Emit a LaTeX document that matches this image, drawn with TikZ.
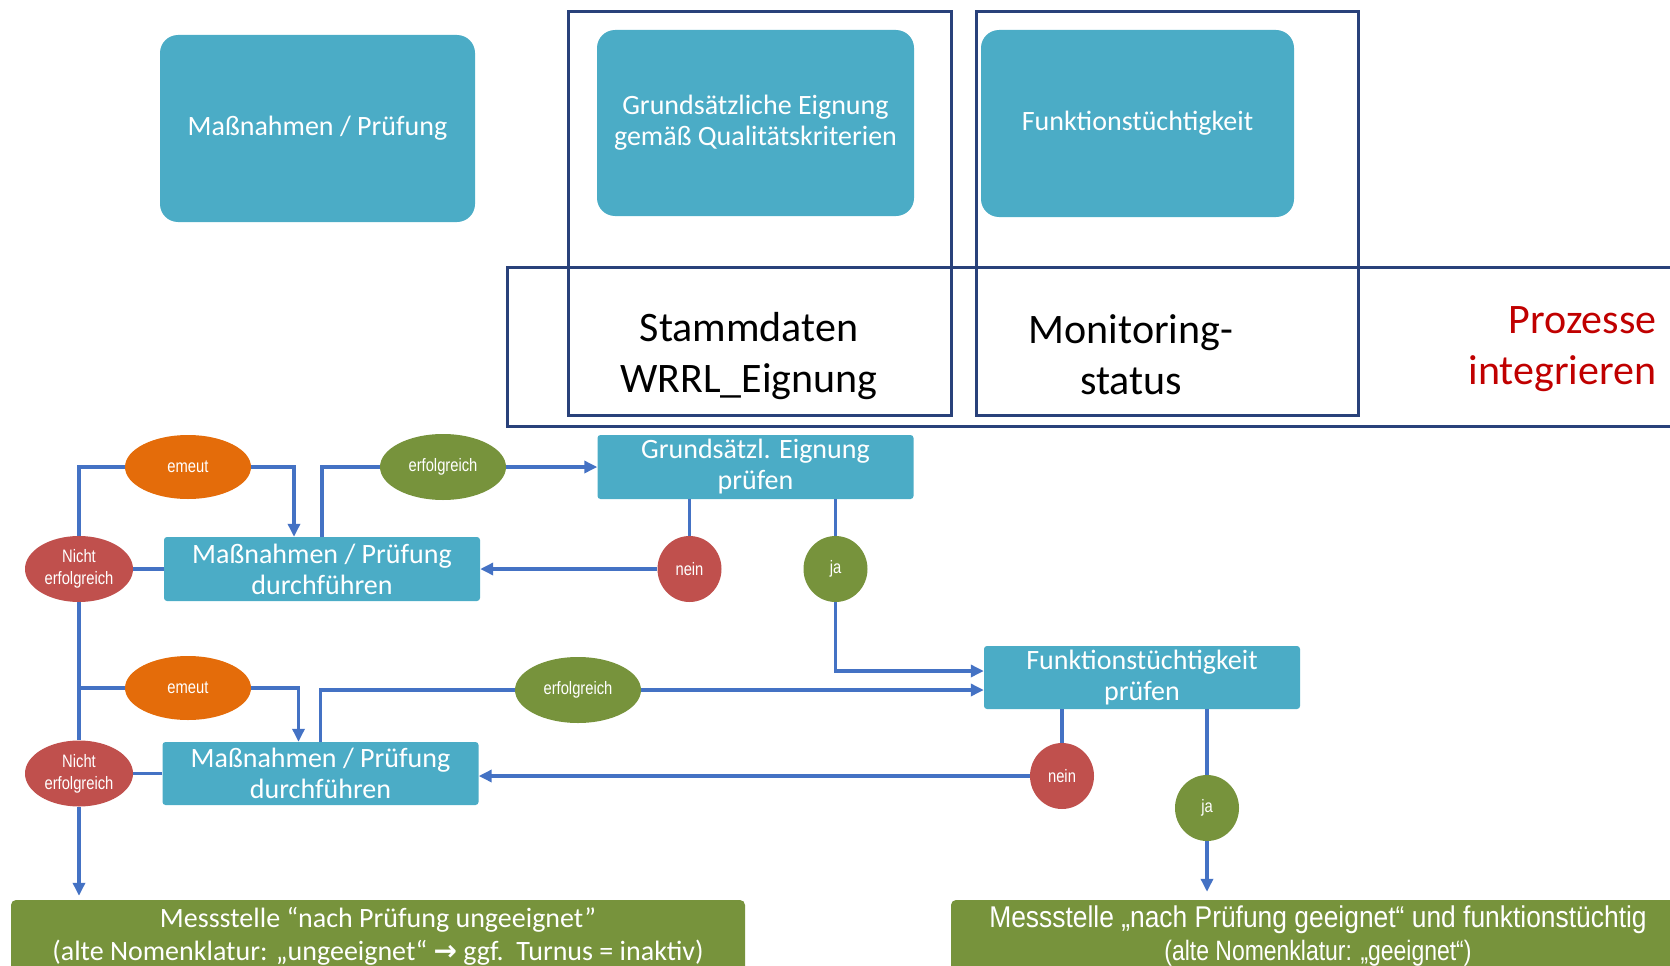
\documentclass[tikz,border=0pt]{standalone}
\usepackage{fontspec}
\setmainfont{Carlito}
\newfontfamily\narrowfont[FakeStretch=0.82]{Liberation Sans}
\newfontfamily\resultfont[FakeStretch=0.88]{Liberation Sans}
\newfontfamily\arrowfont{DejaVu Sans}
\usetikzlibrary{arrows.meta,shapes.geometric}
\definecolor{procteal}{RGB}{75,172,198}
\definecolor{procgreen}{RGB}{119,147,60}
\definecolor{procred}{RGB}{192,80,77}
\definecolor{procorange}{RGB}{228,108,10}
\definecolor{procline}{RGB}{68,114,196}
\definecolor{procframe}{RGB}{41,65,122}
\definecolor{prochead}{RGB}{192,0,0}

\begin{document}
\begin{tikzpicture}[
    x=1pt, y=-1pt,
    topbox/.style={fill=procteal, text=white, rounded corners=18pt, align=center, inner sep=0pt,
      font=\fontsize{28}{31}\selectfont},
    frame/.style={draw=procframe, line width=3pt, inner sep=0pt},
    bigtext/.style={align=center, font=\fontsize{42}{51}\selectfont},
    stepbox/.style={fill=procteal, text=white, rounded corners=3pt, align=center, inner sep=0pt,
      minimum width=316pt, minimum height=64pt, font=\fontsize{28}{31}\selectfont},
    result/.style={fill=procgreen, text=white, rounded corners=5pt, align=center, inner sep=0pt,
      minimum width=734pt, minimum height=72pt},
    oval/.style={ellipse, inner sep=0pt, text=white, align=center,
      font=\narrowfont\fontsize{18}{22}\selectfont},
    again/.style={oval, fill=procorange, minimum width=126pt, minimum height=64pt},
    success/.style={oval, fill=procgreen, minimum width=126pt, minimum height=66pt},
    failed/.style={oval, fill=procred, minimum width=108pt, minimum height=66pt},
    nobox/.style={oval, fill=procred, minimum width=64pt, minimum height=66pt},
    yesbox/.style={oval, fill=procgreen, minimum width=64pt, minimum height=66pt},
    link/.style={draw=procline, line width=3.5pt},
    flow/.style={link, -{Triangle[length=13pt,width=12pt]}}
  ]
    \useasboundingbox (0,0) rectangle (1670,966);
    \clip (0,0) rectangle (1670,966);

    % frames
    \node[frame, minimum width=1200pt, minimum height=159pt] (prozessframe) at (1107,346.5) {};
    \node[frame, minimum width=383pt, minimum height=403pt] (eignungframe) at (759.5,213.5) {};
    \node[frame, minimum width=382pt, minimum height=403pt] (monitorframe) at (1167,213.5) {};

    % top row
    \node[topbox, minimum width=315pt, minimum height=187pt] (massTop) at (317.5,128.5) {Maßnahmen / Prüfung};
    \node[topbox, minimum width=317pt, minimum height=186pt] (eignungTop) at (755.5,123) {Grundsätzliche Eignung\\gemäß Qualitätskriterien};
    \node[topbox, minimum width=313pt, minimum height=187pt] (funkTop) at (1137.5,123.5) {Funktionstüchtigkeit};

    \node[bigtext] (stammdaten) at (749,356) {Stammdaten\\WRRL\_Eignung};
    \node[bigtext] (monitoring) at (1131,355) {Monitoring-\\status};
    \node[bigtext, align=right, text=prochead, anchor=east] (prozesse) at (1660,349) {Prozesse\\integrieren};

    % flow
    \node[stepbox] (grund) at (755.5,467) {Grundsätzl. Eignung\\prüfen};
    \node[stepbox] (mass1) at (322,569) {Maßnahmen / Prüfung\\durchführen};
    \node[stepbox, minimum height=63pt] (funk) at (1142,677.5) {Funktionstüchtigkeit\\prüfen};
    \node[stepbox, minimum height=63pt] (mass2) at (320.5,773.5) {Maßnahmen / Prüfung\\durchführen};

    \node[again] (emeut1) at (188,467) {emeut};
    \node[success] (erfolg1) at (443,467) {erfolgreich};
    \node[failed] (nicht1) at (79,569) {Nicht\\erfolgreich};
    \node[nobox] (nein1) at (689.5,569) {nein};
    \node[yesbox] (ja1) at (835.5,569) {ja};

    \node[again] (emeut2) at (188,688) {emeut};
    \node[success] (erfolg2) at (578,690) {erfolgreich};
    \node[failed] (nicht2) at (79,773.5) {Nicht\\erfolgreich};
    \node[nobox] (nein2) at (1062,776) {nein};
    \node[yesbox] (ja2) at (1207,808) {ja};

    \node[result, font=\fontsize{28}{33}\selectfont] (ungeeignet) at (378,936) {Messstelle “nach Prüfung ungeeignet”\\(alte Nomenklatur: „ungeeignet“ {\arrowfont\bfseries →} ggf.\ \ Turnus = inaktiv)};
    \node[result, font=\resultfont\fontsize{30}{33}\selectfont] (geeignet) at (1318,936) {Messstelle „nach Prüfung geeignet“ und funktionstüchtig\\{\narrowfont\fontsize{28}{33}\selectfont(alte Nomenklatur: „geeignet“)}};

    % connectors
    \draw[link] (mass1.west) -- (nicht1.east);
    \draw[link] (nicht1.north) |- (emeut1.west);
    \draw[flow] (emeut1.east) -| ([xshift=-28pt]mass1.north);
    \draw[link] (mass1.north) |- (erfolg1.west);
    \draw[flow] (erfolg1.east) -- (grund.west);
    \draw[link] (nein1.north |- grund.south) -- (nein1.north);
    \draw[flow] (nein1.west) -- (mass1.east);
    \draw[link] (ja1.north |- grund.south) -- (ja1.north);
    \draw[flow] (ja1.south) |- ([yshift=6.5pt]funk.west);

    \draw[link] (nicht1.south) -- (nicht2.north);
    \draw[link] (nicht1.south |- emeut2.west) -- (emeut2.west);
    \draw[flow] (emeut2.east) -| ([xshift=-22pt]mass2.north);
    \draw[link] (mass2.north) |- (erfolg2.west);
    \draw[flow] (erfolg2.east) -- (erfolg2.east -| funk.west);
    \draw[link] (mass2.west) -- (nicht2.east);
    \draw[link] (nein2.north |- funk.south) -- (nein2.north);
    \draw[flow] (nein2.west) -- (nein2.west -| mass2.east);
    \draw[link] (ja2.north |- funk.south) -- (ja2.north);
    \draw[flow, shorten >=8pt] (ja2.south) -- (ja2.south |- geeignet.north);
    \draw[flow, shorten >=4pt] (nicht2.south) -- (nicht2.south |- ungeeignet.north);
  \end{tikzpicture}
\end{document}
